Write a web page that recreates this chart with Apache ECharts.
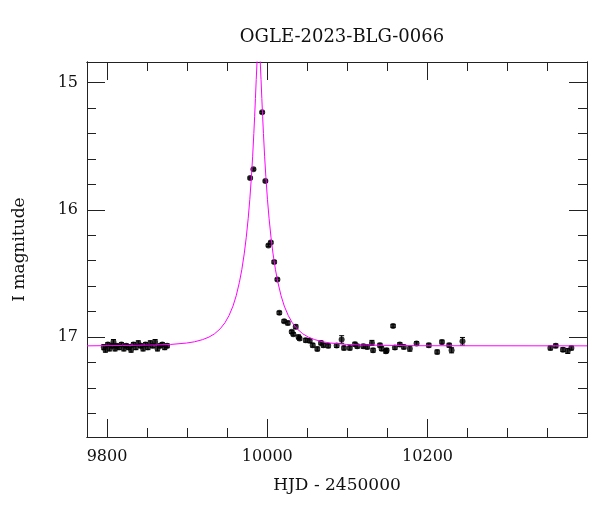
<!DOCTYPE html>
<html>
<head>
<meta charset="utf-8">
<script src="https://cdn.jsdelivr.net/npm/echarts@6/dist/echarts.min.js"></script>
<style>html,body{margin:0;padding:0;background:#fff}#c{width:600px;height:512px}</style>
</head>
<body>
<div id="c"></div>
<script>
// ---- data ----
const titleText = 'OGLE-2023-BLG-0066';
const xTickMajor = [9800, 10000, 10200];
const xTickMinor = [9850, 9900, 9950, 10050, 10100, 10150, 10250, 10300, 10350];
const yTickMajor = [15, 16, 17];
const yTickMinor = [15.2, 15.4, 15.6, 15.8, 16.2, 16.4, 16.6, 16.8, 17.2, 17.4, 17.6];

const obsHJD = [9796, 9798, 9801, 9803, 9806, 9808, 9810, 9812, 9815, 9818, 9821, 9824, 9827, 9830, 9833, 9836, 9839, 9842, 9845, 9848, 9851, 9854, 9857, 9860, 9863, 9866, 9869, 9872, 9875,
  9978.6, 9982.7, 9993.6, 9997.6, 10001.4, 10004.4, 10008.6, 10012.6, 10015.0, 10021.0, 10025.6, 10030.5, 10032.5, 10035.5, 10039.0, 10040.3, 10048.0, 10053.0, 10056.7, 10062.4, 10067.0, 10070.0, 10076.0, 10086.6, 10092.8, 10095.7, 10103.0, 10109.4, 10112.3, 10119.8, 10124.7, 10130.6, 10132.0, 10140.6, 10142.7, 10148.0, 10148.9, 10157.0, 10159.3, 10165.4, 10170.4, 10177.9, 10186.3, 10201.6, 10212.0, 10218.0, 10227.0, 10230.0, 10243.6,
  10353.3, 10360.0, 10369.0, 10375.0, 10379.5];
const obsMag = [17.08, 17.10, 17.06, 17.09, 17.07, 17.04, 17.09, 17.07, 17.08, 17.06, 17.09, 17.07, 17.08, 17.10, 17.06, 17.08, 17.05, 17.07, 17.09, 17.06, 17.08, 17.05, 17.07, 17.04, 17.09, 17.07, 17.06, 17.08, 17.07,
  15.75, 15.68, 15.233, 15.774, 16.28, 16.257, 16.41, 16.548, 16.81, 16.876, 16.89, 16.96, 16.979, 16.92, 17.00, 17.013, 17.026, 17.03, 17.065, 17.094, 17.047, 17.065, 17.07, 17.068, 17.02, 17.087, 17.087, 17.057, 17.073, 17.073, 17.079, 17.047, 17.105, 17.065, 17.092, 17.113, 17.105, 16.913, 17.083, 17.06, 17.079, 17.092, 17.052, 17.065, 17.118, 17.04, 17.065, 17.105, 17.034,
  17.087, 17.07, 17.10, 17.11, 17.087];
const obsErr = [0.02, 0.02, 0.015, 0.02, 0.015, 0.02, 0.02, 0.015, 0.02, 0.015, 0.02, 0.015, 0.02, 0.02, 0.015, 0.02, 0.02, 0.015, 0.02, 0.015, 0.02, 0.02, 0.015, 0.02, 0.02, 0.015, 0.015, 0.02, 0.015,
  0.008, 0.008, 0.008, 0.008, 0.01, 0.01, 0.01, 0.01, 0.012, 0.012, 0.015, 0.012, 0.012, 0.015, 0.015, 0.012, 0.015, 0.015, 0.015, 0.015, 0.015, 0.015, 0.015, 0.015, 0.03, 0.015, 0.015, 0.015, 0.015, 0.015, 0.015, 0.02, 0.015, 0.015, 0.015, 0.015, 0.015, 0.012, 0.015, 0.015, 0.015, 0.02, 0.015, 0.015, 0.015, 0.015, 0.015, 0.02, 0.03,
  0.015, 0.015, 0.015, 0.02, 0.015];

const modelHJD = [9775, 9819.2, 9859.2, 9879.2, 9899.2, 9909.2, 9919.2, 9927.2, 9934.2, 9941.2, 9947.2, 9952.2, 9957.2, 9961.2, 9965.2, 9968.2, 9971.2, 9973.7, 9976.2, 9978.2, 9980.2, 9981.7, 9983.2, 9984.2, 9985.2, 9986.2, 9987.2, 9988.2, 9989.2,
  9990.2, 9991.2, 9992.2, 9993.2, 9994.2, 9995.2, 9996.7, 9998.2, 10000.2, 10002.2, 10004.7, 10007.2, 10010.2, 10013.2, 10017.2, 10021.2, 10026.2, 10031.2, 10037.2, 10044.2, 10051.2, 10059.2, 10069.2, 10079.2, 10099.2, 10119.2, 10159.2, 10189.2, 10399];
const modelMag = [17.070, 17.067, 17.063, 17.059, 17.048, 17.038, 17.021, 17.001, 16.975, 16.936, 16.888, 16.832, 16.757, 16.676, 16.570, 16.471, 16.347, 16.220, 16.066, 15.917, 15.739, 15.583, 15.400, 15.268, 15.124, 14.975, 14.836, 14.730, 14.690,
  14.730, 14.836, 14.975, 15.124, 15.268, 15.400, 15.583, 15.739, 15.917, 16.066, 16.220, 16.347, 16.471, 16.570, 16.676, 16.757, 16.832, 16.888, 16.936, 16.975, 17.001, 17.021, 17.038, 17.048, 17.059, 17.063, 17.067, 17.069, 17.070];

// ---- chart ----
const FONT = 'DejaVu Serif';
const AX = '#222';
const xMin = 9775, xMax = 10399, yMin = 14.837, yMax = 17.787;

function xAx(pos, ticks, len, labels) {
  return {
    type: 'value', position: pos, min: xMin, max: xMax, gridIndex: 0,
    axisLine: { show: true, onZero: false, lineStyle: { color: AX, width: 1 } },
    axisTick: { show: true, inside: true, length: len, customValues: ticks, lineStyle: { color: AX, width: 1 } },
    axisLabel: labels ? { show: true, customValues: ticks, margin: 12, fontFamily: FONT, fontSize: 16, color: '#111', formatter: v => String(Math.round(v)) } : { show: false },
    splitLine: { show: false }
  };
}
function yAx(pos, ticks, len, labels) {
  return {
    type: 'value', position: pos, min: yMin, max: yMax, inverse: true, gridIndex: 0,
    axisLine: { show: true, onZero: false, lineStyle: { color: AX, width: 1 } },
    axisTick: { show: true, inside: true, length: len, customValues: ticks, lineStyle: { color: AX, width: 1 } },
    axisLabel: labels ? { show: true, customValues: ticks, margin: 9, fontFamily: FONT, fontSize: 16, color: '#111', formatter: v => String(Math.round(v)) } : { show: false },
    splitLine: { show: false }
  };
}

const xAxes = [xAx('bottom', xTickMajor, 18, true), xAx('bottom', xTickMinor, 9, false), xAx('top', xTickMajor, 18, false), xAx('top', xTickMinor, 9, false)];
Object.assign(xAxes[0], { name: 'HJD - 2450000', nameLocation: 'middle', nameGap: 40, nameTextStyle: { fontFamily: FONT, fontSize: 17, color: '#111' } });
const yAxes = [yAx('left', yTickMajor, 18, true), yAx('left', yTickMinor, 9, false), yAx('right', yTickMajor, 18, false), yAx('right', yTickMinor, 9, false)];
Object.assign(yAxes[0], { name: 'I magnitude', nameLocation: 'middle', nameGap: 59, nameRotate: 90, nameTextStyle: { fontFamily: FONT, fontSize: 17, color: '#111' } });

const pts = obsHJD.map((x, i) => [x, obsMag[i], obsErr[i]]);
const model = modelHJD.map((x, i) => [x, modelMag[i]]);

const chart = echarts.init(document.getElementById('c'), null, { renderer: 'canvas' });
chart.setOption({
  animation: false,
  backgroundColor: '#fff',
  title: { text: titleText, left: 337, top: 23, textAlign: 'center', textStyle: { fontFamily: FONT, fontSize: 18, fontWeight: 'normal', color: '#111' } },
  grid: { left: 87, right: 13, top: 62, bottom: 75, containLabel: false },
  xAxis: xAxes,
  yAxis: yAxes,
  series: [
    {
      type: 'custom', xAxisIndex: 0, yAxisIndex: 0, z: 2, clip: true,
      data: pts,
      renderItem: function (params, api) {
        const x = api.value(0), y = api.value(1), e = api.value(2);
        const a = api.coord([x, y - e]), b = api.coord([x, y + e]);
        const w = 2.5;
        const st = { stroke: '#000', lineWidth: 1 };
        return { type: 'group', children: [
          { type: 'line', shape: { x1: a[0], y1: a[1], x2: b[0], y2: b[1] }, style: st },
          { type: 'line', shape: { x1: a[0] - w, y1: a[1], x2: a[0] + w, y2: a[1] }, style: st },
          { type: 'line', shape: { x1: b[0] - w, y1: b[1], x2: b[0] + w, y2: b[1] }, style: st }
        ] };
      }
    },
    {
      type: 'scatter', xAxisIndex: 0, yAxisIndex: 0, z: 3,
      data: pts, symbol: 'circle', symbolSize: 6,
      itemStyle: { color: '#000' }
    },
    {
      type: 'line', xAxisIndex: 0, yAxisIndex: 0, z: 4, clip: true,
      data: model, showSymbol: false, symbol: 'none', smooth: false,
      lineStyle: { color: '#ff00ff', width: 1 }
    }
  ]
});
</script>
</body>
</html>
